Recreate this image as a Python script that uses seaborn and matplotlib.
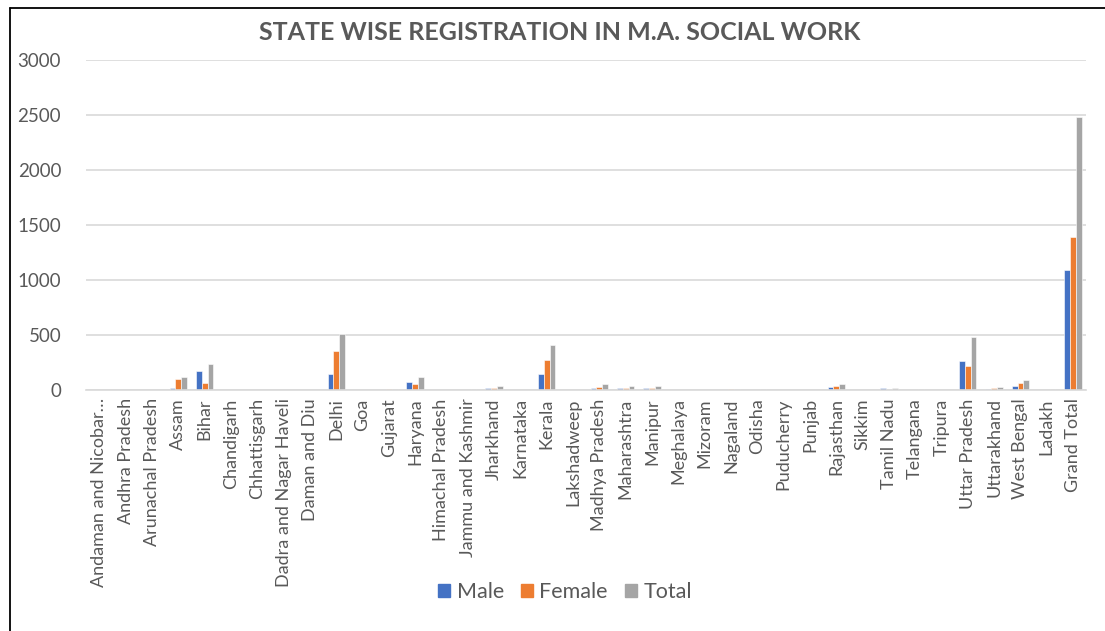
import matplotlib
matplotlib.use("Agg")
import matplotlib.pyplot as plt
import seaborn as sns
import pandas as pd
from matplotlib.lines import Line2D

states = ["Andaman and Nicobar…", "Andhra Pradesh", "Arunachal Pradesh", "Assam", "Bihar",
          "Chandigarh", "Chhattisgarh", "Dadra and Nagar Haveli", "Daman and Diu", "Delhi",
          "Goa", "Gujarat", "Haryana", "Himachal Pradesh", "Jammu and Kashmir", "Jharkhand",
          "Karnataka", "Kerala", "Lakshadweep", "Madhya Pradesh", "Maharashtra", "Manipur",
          "Meghalaya", "Mizoram", "Nagaland", "Odisha", "Puducherry", "Punjab", "Rajasthan",
          "Sikkim", "Tamil Nadu", "Telangana", "Tripura", "Uttar Pradesh", "Uttarakhand",
          "West Bengal", "Ladakh", "Grand Total"]
male = [0, 1, 1, 20, 174, 0, 0, 0, 0, 149, 0, 2, 68, 0, 3, 15, 0, 145, 0, 22, 20, 15,
        0, 0, 2, 1, 0, 1, 23, 0, 14, 1, 0, 262, 10, 35, 2, 1088]
female = [0, 3, 3, 100, 60, 0, 0, 0, 0, 356, 0, 5, 52, 0, 4, 22, 0, 268, 0, 30, 16, 17,
          0, 0, 5, 3, 0, 2, 32, 0, 4, 3, 0, 222, 18, 60, 3, 1392]
total = [0, 4, 4, 120, 234, 0, 0, 0, 0, 505, 0, 7, 120, 0, 8, 37, 0, 413, 0, 55, 38, 33,
         0, 0, 7, 5, 0, 4, 55, 0, 18, 5, 0, 484, 28, 95, 5, 2480]
series = ["Male", "Female", "Total"]
colors = ["#4472C4", "#ED7D31", "#A5A5A5"]

df = pd.DataFrame({"State": states * 3,
                   "Series": ["Male"] * len(states) + ["Female"] * len(states) + ["Total"] * len(states),
                   "Value": male + female + total})

sns.set_theme(style="white")
plt.rcParams["font.family"] = ["Lato", "DejaVu Sans"]

fig = plt.figure(figsize=(11.05, 6.31), dpi=100)
ax = fig.add_axes([0.078, 0.382, 0.905, 0.523])

sns.barplot(data=df, x="State", y="Value", hue="Series", hue_order=series,
            palette=colors, width=0.66, ax=ax, errorbar=None,
            edgecolor="white", linewidth=0.4, saturation=1)

ax.set_ylim(0, 3000)
ax.set_xlim(-0.5, len(states) - 0.5)
ax.set_yticks(range(0, 3001, 500))
ax.yaxis.grid(True, color="#D9D9D9", linewidth=1.2)
ax.set_axisbelow(True)
for s in ["top", "right", "left"]:
    ax.spines[s].set_visible(False)
ax.spines["bottom"].set_color("#D9D9D9")
ax.spines["bottom"].set_linewidth(1.2)
ax.set_xlabel("")
ax.set_ylabel("")
ax.tick_params(axis="y", labelsize=13.5, colors="#595959", length=0, pad=18)
ax.tick_params(axis="x", labelsize=13, colors="#595959", length=0, pad=6)
plt.setp(ax.get_xticklabels(), rotation=90)
if ax.get_legend() is not None:
    ax.get_legend().remove()

fig.text(560 / 1105, 1 - 32 / 631, "STATE WISE REGISTRATION IN M.A. SOCIAL WORK",
         fontsize=18, fontweight="bold", color="#595959", ha="center", va="center")

handles = [plt.Rectangle((0, 0), 1, 1, color=c) for c in colors]
fig.legend(handles, series, loc="center", bbox_to_anchor=(565 / 1105, 1 - 592 / 631),
           ncol=3, frameon=False, fontsize=15.5,
           handlelength=0.55, handleheight=0.55, handletextpad=0.3, columnspacing=0.8,
           labelcolor="#595959")

# frame lines (top and left border of the original chart box)
fig.add_artist(Line2D([10 / 1105, 10 / 1105], [0, 1 - 8 / 631], color="black", linewidth=1.3,
                      transform=fig.transFigure))
fig.add_artist(Line2D([10 / 1105, 1], [1 - 8 / 631, 1 - 8 / 631], color="black", linewidth=1.3,
                      transform=fig.transFigure))

fig.savefig("out.png", dpi=100)
